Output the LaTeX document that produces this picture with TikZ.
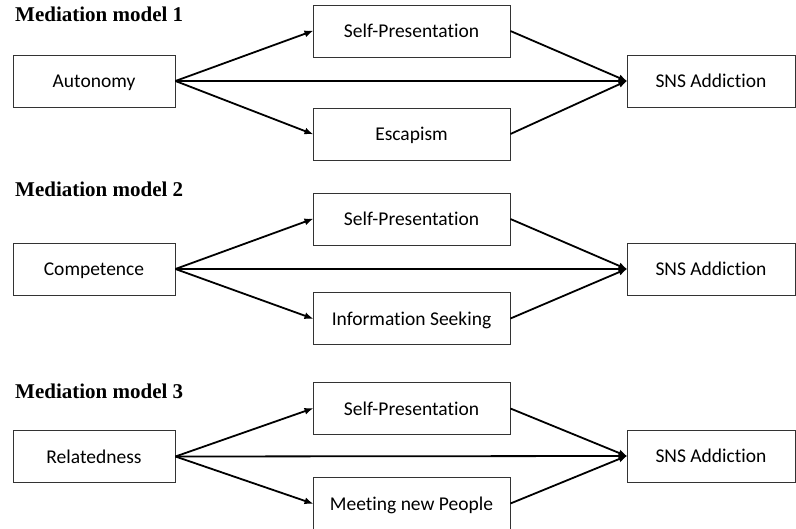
\documentclass[tikz,border=0pt]{standalone}
\usepackage{fontspec}
\setmainfont{Liberation Serif}
\newfontfamily\boxfont[Ligatures=NoCommon]{Carlito}
\usetikzlibrary{arrows.meta}
\tikzset{
  box/.style={draw=black!80, line width=0.9pt, inner sep=0pt, minimum height=52pt, text height=14pt, text depth=0pt, font=\boxfont\fontsize{19.5}{22}\selectfont},
  srcbox/.style={box, minimum width=162pt},
  medbox/.style={box, minimum width=197pt},
  outbox/.style={box, minimum width=168pt},
  ttl/.style={anchor=base west, inner sep=0pt, font=\bfseries\fontsize{21}{24}\selectfont},
  arr/.style={line width=1.8pt, -{Latex[length=9pt,width=7pt]}, shorten >=-1pt}
}
\begin{document}
\begin{tikzpicture}[x=1pt,y=-1pt]
\clip (0,0) rectangle (796,529);
\fill[white] (0,0) rectangle (796,529);
% Model 1
\node[ttl] (t1) at (15,22) {Mediation model 1};
\node[srcbox] (a1) at (94,81) {Autonomy};
\node[medbox] (p1) at (411.5,31) {Self-Presentation};
\node[medbox] (m1) at (411.5,134) {Escapism};
\node[outbox] (s1) at (711,81) {SNS Addiction};
\draw[arr] (a1.east) -- (p1.west);
\draw[arr] (a1.east) -- (m1.west);
\draw[arr] (a1.east) -- (s1.west);
\draw[arr] (p1.east) -- (s1.west);
\draw[arr] (m1.east) -- (s1.west);
% Model 2
\node[ttl] (t2) at (15,197) {Mediation model 2};
\node[srcbox] (a2) at (94,269) {Competence};
\node[medbox] (p2) at (411.5,219) {Self-Presentation};
\node[medbox] (m2) at (411.5,318.5) {Information Seeking};
\node[outbox] (s2) at (711,269) {SNS Addiction};
\draw[arr] (a2.east) -- (p2.west);
\draw[arr] (a2.east) -- (m2.west);
\draw[arr] (a2.east) -- (s2.west);
\draw[arr] (p2.east) -- (s2.west);
\draw[arr] (m2.east) -- (s2.west);
% Model 3
\node[ttl] (t3) at (15,399) {Mediation model 3};
\node[srcbox] (a3) at (94,456.5) {Relatedness};
\node[medbox] (p3) at (411.5,408.5) {Self-Presentation};
\node[medbox] (m3) at (411.5,503.5) {Meeting new People};
\node[outbox] (s3) at (711,456) {SNS Addiction};
\draw[arr] (a3.east) -- (p3.west);
\draw[arr] (a3.east) -- (m3.west);
\draw[arr] (a3.east) -- (s3.west);
\draw[arr] (p3.east) -- (s3.west);
\draw[arr] (m3.east) -- (s3.west);
\end{tikzpicture}
\end{document}
